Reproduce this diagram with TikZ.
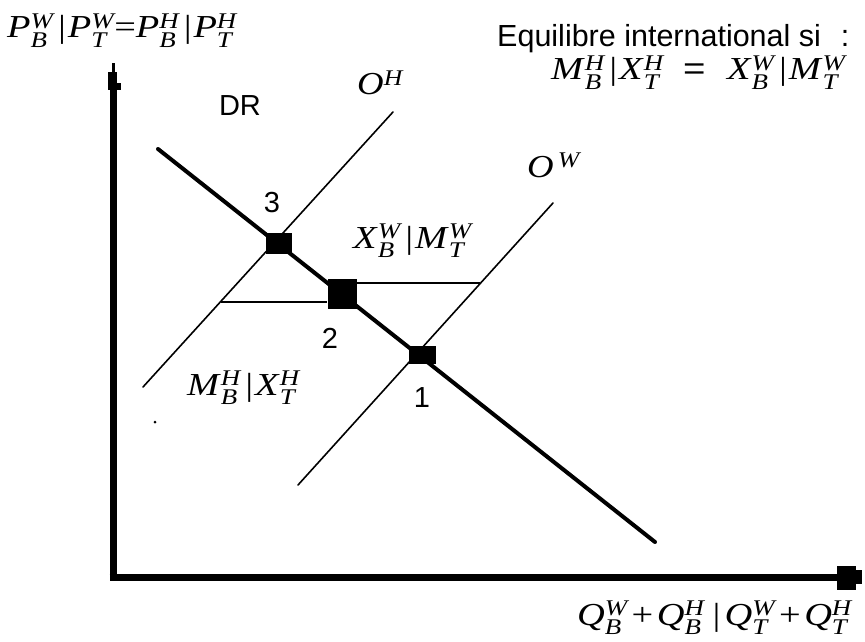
\documentclass[tikz,border=0pt]{standalone}
\usepackage{amsmath}
\usepackage{fontspec}
\setmainfont{Liberation Serif}
\newfontfamily\arialf{Liberation Sans}
\newcommand\tv[3]{\textit{#1}$^{\textit{#2}}_{\textit{#3}}$}
\newcommand\bbar{\hspace{2pt}\textit{|}\hspace{1pt}}
\newcommand\wide[1]{\scalebox{1.2}[1]{#1}}
\tikzset{
  mlab/.style={inner sep=0pt, anchor=base west, font=\fontsize{32}{35}\selectfont},
  slab/.style={inner sep=0pt, font=\arialf\fontsize{29}{32}\selectfont},
  axisline/.style={line width=7pt, line cap=butt},
  curve/.style={line width=1.6pt, line cap=round},
  drline/.style={line width=4pt, line cap=round},
  hline/.style={line width=2.8pt, line cap=butt},
  eqpt/.style={fill=black, inner sep=0pt, rectangle}
}
\begin{document}
\begin{tikzpicture}[x=1pt,y=-1pt]
\useasboundingbox (0,0) rectangle (865,642);
% axes
\coordinate (origin) at (113,577);
\coordinate (ytop) at (113,88);
\coordinate (xend) at (840,577);
\draw[axisline] (113,580.5) -- (ytop);
\draw[axisline] (109.5,577) -- (xend);
\fill (108,72) rectangle (117,90);
\fill (117,83) rectangle (121,90);
\fill (111.8,63) rectangle (114.5,72);
\fill (837,566) rectangle (856,590);
\fill (856,570) rectangle (862,584);
% curves
\coordinate (OHa) at (143,387);
\coordinate (OHb) at (393,112);
\coordinate (OWa) at (298,485);
\coordinate (OWb) at (553,203);
\coordinate (DRa) at (158,149);
\coordinate (DRb) at (655,542);
\draw[curve] (OHa) -- (OHb);
\draw[curve] (OWa) -- (OWb);
\draw[drline] (DRa) -- (DRb);
% equilibrium points
\node[eqpt, minimum width=26pt, minimum height=21pt] (p3) at (279,243) {};
\node[eqpt, minimum width=29pt, minimum height=30pt] (p2) at (342,294) {};
\node[eqpt, minimum width=27pt, minimum height=18pt] (p1) at (422,355) {};
% horizontal segments
\coordinate (hl) at (221,302);
\coordinate (hr) at (480,283);
\draw[hline] (hl) -- (hl -| p2.west);
\draw[hline] (hr -| p2.east) -- (hr);
% labels
\node[mlab] (yl) at (7,38) {\wide{\tv{P}{W}{B}\bbar\tv{P}{W}{T}=\tv{P}{H}{B}\bbar\tv{P}{H}{T}}};
\node[slab, anchor=base west, font=\arialf\fontsize{30.5}{33}\selectfont] (eqt) at (497,47) {Equilibre international si\hspace{20pt}:};
\node[mlab] (eqf) at (551,80) {\wide{\tv{M}{H}{B}\bbar\tv{X}{H}{T}\hspace{16pt}{\arialf=}\hspace{18pt}\tv{X}{W}{B}\bbar\tv{M}{W}{T}}};
\node[mlab] (oh) at (357,95) {\scalebox{1.15}[1]{\textit{O}$^{\textit{H}}$}};
\node[mlab] (ow) at (527,177) {\scalebox{1.15}[1]{\textit{O}$^{\,\textit{W}}$}};
\node[slab] (dr) at (240,106) {DR};
\node[slab] (n3) at (272,203) {3};
\node[slab] (n2) at (330,338) {2};
\node[slab] (n1) at (422,398) {1};
\node[mlab] (xw) at (353,248) {\wide{\tv{X}{W}{B}\bbar\tv{M}{W}{T}}};
\node[mlab] (mh) at (187,395) {\wide{\tv{M}{H}{B}\bbar\tv{X}{H}{T}}};
\node[mlab] (xl) at (577,625) {\wide{\tv{Q}{W}{B}\hspace{3pt}+\hspace{3pt}\tv{Q}{H}{B}\hspace{3pt}\bbar\hspace{2pt}\tv{Q}{W}{T}\hspace{3pt}+\hspace{3pt}\tv{Q}{H}{T}}};
\fill (155,422) circle (1.5pt);
\end{tikzpicture}
\end{document}
